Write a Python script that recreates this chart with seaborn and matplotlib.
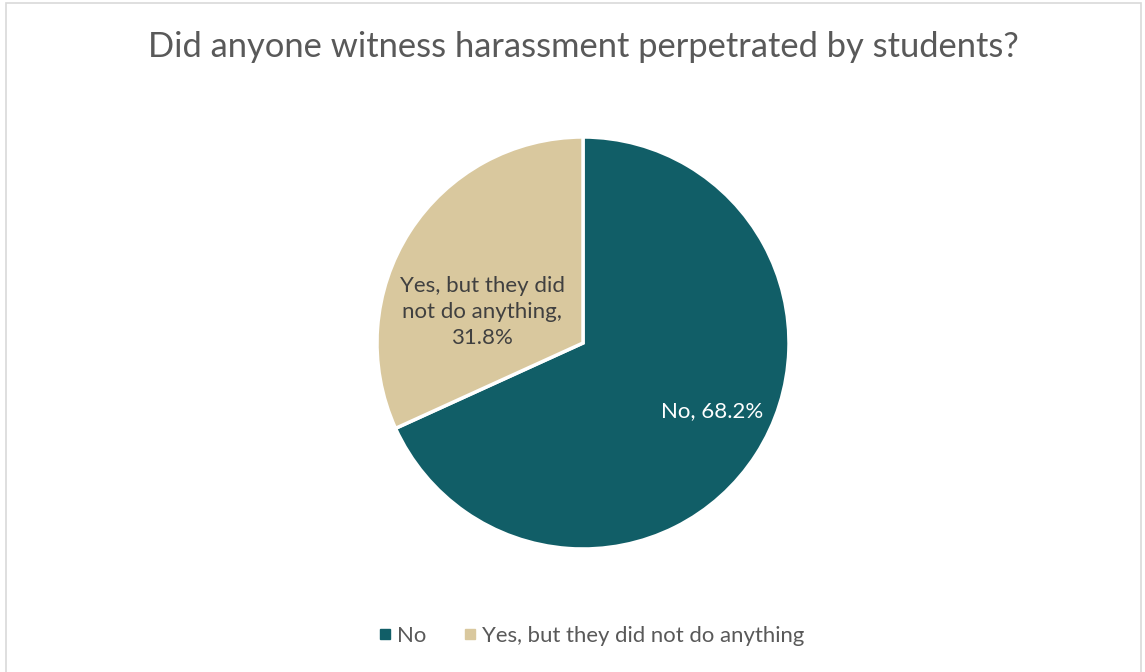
import matplotlib
matplotlib.use("Agg")
import matplotlib.pyplot as plt
import seaborn as sns
from matplotlib.lines import Line2D
from matplotlib.patches import Rectangle

categories = ["No", "Yes, but they did not do anything"]
values = [68.2, 31.8]
label_texts = ["No, 68.2%", "Yes, but they did\nnot do anything,\n31.8%"]
title = "Did anyone witness harassment perpetrated by students?"

sns.set_theme(style="white")
plt.rcParams["font.family"] = ["Lato", "DejaVu Sans"]
colors = sns.color_palette(["#115E67", "#D9C89E"])

W, H = 1145, 672
fig = plt.figure(figsize=(W / 100, H / 100), dpi=100)
fig.patch.set_facecolor("white")

# border
fig.add_artist(Rectangle((6 / W, -0.05), (1141 - 6) / W, 1.05 - 3 / H, transform=fig.transFigure,
                         fill=False, edgecolor="#D9D9D9", linewidth=1.2))

cx, cy, r = 583, 343, 206
ax = fig.add_axes([(cx - r) / W, (H - cy - r) / H, 2 * r / W, 2 * r / H])
wedges, _ = ax.pie(values, colors=colors, startangle=90, counterclock=False,
                   wedgeprops=dict(edgecolor="white", linewidth=2.5, clip_on=False), radius=1)
ax.set_xlim(-1.0, 1.0)
ax.set_ylim(-1.0, 1.0)
ax.set_aspect("equal")
ax.axis("off")

label_pos = [(0.626, -0.33), (-0.49, 0.15)]
label_colors = ["white", "#404040"]
for txt, (x, y), c in zip(label_texts, label_pos, label_colors):
    ax.text(x, y, txt, ha="center", va="center", color=c, fontsize=16, linespacing=1.4)

fig.text(583 / W, 1 - 47 / H, title, ha="center", va="center", color="#595959", fontsize=24.8)

handles = [Line2D([0], [0], marker="s", linestyle="none", markersize=7,
                  markerfacecolor=c, markeredgecolor=c) for c in colors]
fig.legend(handles, categories, loc="center", bbox_to_anchor=(590 / W, 1 - 636 / H),
           ncol=2, frameon=False, fontsize=15.9, labelcolor="#595959",
           handletextpad=0.15, columnspacing=1.55, handlelength=0.8)

fig.savefig("out.png", dpi=100)
